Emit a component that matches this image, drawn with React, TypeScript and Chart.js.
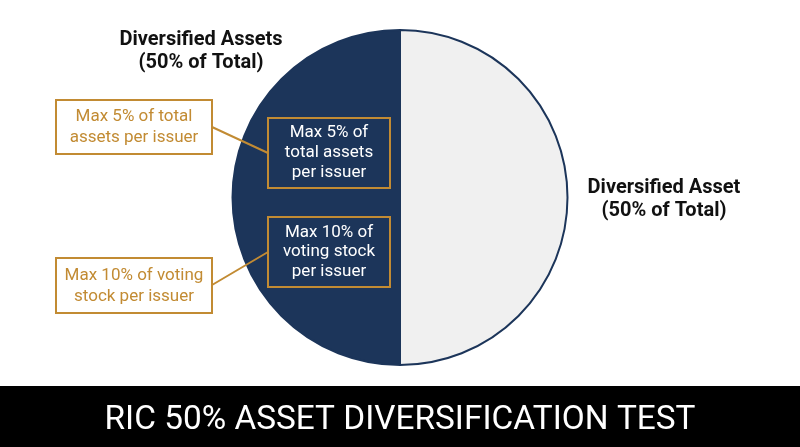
import React, { useEffect, useRef } from "react";
import { Chart, registerables } from "chart.js";

Chart.register(...registerables);

// ---- data ----
const sliceLabels = ["Diversified Asset (50% of Total)", "Diversified Assets (50% of Total)"];
const sliceValues = [50, 50];
const sliceColors = ["#f0f0f0", "#1c355a"];
const leftTitle = ["Diversified Assets", "(50% of Total)"];
const rightTitle = ["Diversified Asset", "(50% of Total)"];
const innerNotes = [
  ["Max 5% of", "total assets", "per issuer"],
  ["Max 10% of", "voting stock", "per issuer"],
];
const outerNotes = [
  ["Max 5% of total", "assets per issuer"],
  ["Max 10% of voting", "stock per issuer"],
];
const chartTitle = "RIC 50% ASSET DIVERSIFICATION TEST";

const NAVY = "#1c355a";
const GOLD = "#c28b33";

const overlayPlugin = {
  id: "overlay",
  afterDraw(chart: any) {
    const ctx = chart.ctx as CanvasRenderingContext2D;
    ctx.save();
    ctx.textAlign = "center";
    ctx.textBaseline = "middle";

    // slice titles
    ctx.fillStyle = "#111111";
    ctx.font = "bold 20px Roboto";
    ctx.fillText(leftTitle[0], 201, 40);
    ctx.fillText(leftTitle[1], 201, 63);
    ctx.fillText(rightTitle[0], 664, 188);
    ctx.fillText(rightTitle[1], 664, 211);

    // connectors
    ctx.strokeStyle = GOLD;
    ctx.lineWidth = 2;
    ctx.beginPath();
    ctx.moveTo(212, 127);
    ctx.lineTo(268, 153);
    ctx.moveTo(212, 285);
    ctx.lineTo(268, 252);
    ctx.stroke();

    // inner boxes
    const inner = [
      { x: 268, y: 118, w: 122, h: 70, lines: [133, 153, 173] },
      { x: 268, y: 217, w: 122, h: 70, lines: [233, 252, 272] },
    ];
    inner.forEach((b, i) => {
      ctx.strokeStyle = GOLD;
      ctx.lineWidth = 2;
      ctx.strokeRect(b.x, b.y, b.w, b.h);
      ctx.fillStyle = "#ffffff";
      ctx.font = "17px Roboto";
      innerNotes[i].forEach((t, j) => ctx.fillText(t, b.x + b.w / 2, b.lines[j]));
    });

    // outer boxes
    const outer = [
      { x: 56, y: 100, w: 156, h: 54, lines: [117, 138] },
      { x: 56, y: 258, w: 156, h: 55, lines: [276, 297] },
    ];
    outer.forEach((b, i) => {
      ctx.fillStyle = "#ffffff";
      ctx.fillRect(b.x, b.y, b.w, b.h);
      ctx.strokeStyle = GOLD;
      ctx.lineWidth = 2;
      ctx.strokeRect(b.x, b.y, b.w, b.h);
      ctx.fillStyle = GOLD;
      ctx.font = "17px Roboto";
      outerNotes[i].forEach((t, j) => ctx.fillText(t, b.x + b.w / 2, b.lines[j]));
    });

    // banner
    ctx.fillStyle = "#000000";
    ctx.fillRect(0, 386, 800, 61);
    ctx.fillStyle = "#ffffff";
    ctx.font = "34px Roboto";
    const w = ctx.measureText(chartTitle).width;
    const sx = 591 / w;
    ctx.translate(400, 420);
    ctx.scale(sx, 1);
    ctx.fillText(chartTitle, 0, 0);
    ctx.restore();
  },
};

export default function App() {
  const ref = useRef<HTMLCanvasElement | null>(null);
  useEffect(() => {
    document.body.style.margin = "0";
    const chart = new Chart(ref.current!, {
      type: "pie",
      data: {
        labels: sliceLabels,
        datasets: [
          {
            data: sliceValues,
            backgroundColor: sliceColors,
            borderColor: NAVY,
            borderWidth: 2,
          },
        ],
      },
      options: {
        animation: false,
        responsive: false,
        layout: { padding: { top: 29, bottom: 81, left: 0, right: 0 } },
        plugins: {
          legend: { display: false },
          tooltip: { enabled: false },
          title: { display: false },
        },
      },
      plugins: [overlayPlugin],
    });
    return () => chart.destroy();
  }, []);
  return (
    <div style={{ width: 800, height: 447, background: "#ffffff" }}>
      <canvas ref={ref} width={800} height={447} />
    </div>
  );
}
